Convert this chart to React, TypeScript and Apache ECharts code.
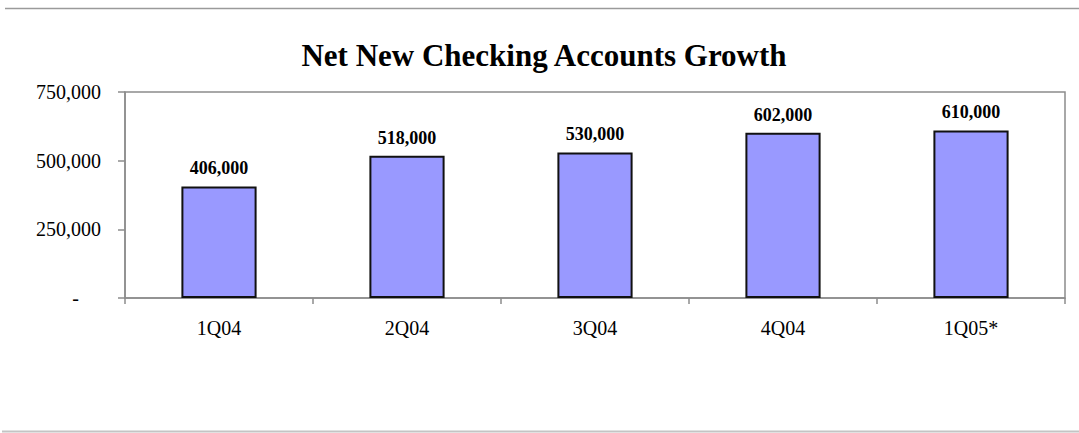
import React, { useEffect, useRef } from "react";
import * as echarts from "echarts";

const categories = ["1Q04", "2Q04", "3Q04", "4Q04", "1Q05*"];
const accounts = [406000, 518000, 530000, 602000, 610000];
const yTicks = [0, 250000, 500000, 750000];
const titleText = "Net New Checking Accounts Growth";

const serif = "'Liberation Serif', 'Times New Roman', 'DejaVu Serif', serif";

export default function App() {
  const ref = useRef<HTMLDivElement>(null);

  useEffect(() => {
    if (!ref.current) return;
    const chart = echarts.init(ref.current, undefined, { renderer: "svg" });
    chart.setOption({
      animation: false,
      backgroundColor: "#ffffff",
      title: {
        text: titleText,
        left: 539,
        textAlign: "center",
        top: 35,
        textStyle: {
          fontFamily: serif,
          fontSize: 31,
          fontWeight: "bold",
          color: "#000000",
        },
      },
      graphic: [
        {
          type: "line",
          shape: { x1: 5, y1: 8.5, x2: 1079, y2: 8.5 },
          style: { stroke: "#9a9a9a", lineWidth: 1.5 },
        },
        {
          type: "line",
          shape: { x1: 2, y1: 431.5, x2: 1079, y2: 431.5 },
          style: { stroke: "#c4c4c4", lineWidth: 2 },
        },
      ],
      grid: {
        left: 125,
        right: 14,
        top: 92,
        bottom: 135,
        show: true,
        borderColor: "#8c8c8c",
        borderWidth: 1.5,
        backgroundColor: "transparent",
      },
      xAxis: {
        type: "category",
        data: categories,
        axisLine: { lineStyle: { color: "#8c8c8c", width: 1.5 } },
        axisTick: {
          show: true,
          alignWithLabel: false,
          length: 6,
          lineStyle: { color: "#8c8c8c", width: 1.5 },
        },
        axisLabel: {
          margin: 20,
          fontFamily: serif,
          fontSize: 20,
          color: "#000000",
        },
      },
      yAxis: {
        type: "value",
        min: yTicks[0],
        max: yTicks[yTicks.length - 1],
        interval: yTicks[1] - yTicks[0],
        splitLine: { show: false },
        axisLine: { show: true, lineStyle: { color: "#8c8c8c", width: 1.5 } },
        axisTick: {
          show: true,
          length: 7,
          lineStyle: { color: "#8c8c8c", width: 1.5 },
        },
        axisLabel: {
          margin: 24,
          fontFamily: serif,
          fontSize: 20,
          color: "#000000",
          formatter: (v: number) =>
            v === 0 ? "{d|-}" : v.toLocaleString("en-US"),
          rich: {
            d: {
              fontFamily: serif,
              fontSize: 20,
              color: "#000000",
              padding: [0, 22, 0, 0],
            },
          },
        },
      },
      series: [
        {
          type: "bar",
          data: accounts,
          barWidth: "40%",
          itemStyle: {
            color: "#9999ff",
            borderColor: "#111111",
            borderWidth: 2,
          },
          label: {
            show: true,
            position: "top",
            distance: 9,
            fontFamily: serif,
            fontSize: 18,
            fontWeight: "bold",
            color: "#000000",
            formatter: (p: any) => Number(p.value).toLocaleString("en-US"),
          },
        },
      ],
    });
    return () => chart.dispose();
  }, []);

  return (
    <div
      ref={ref}
      style={{ position: "fixed", left: 0, top: 0, width: 1079, height: 433 }}
    />
  );
}
